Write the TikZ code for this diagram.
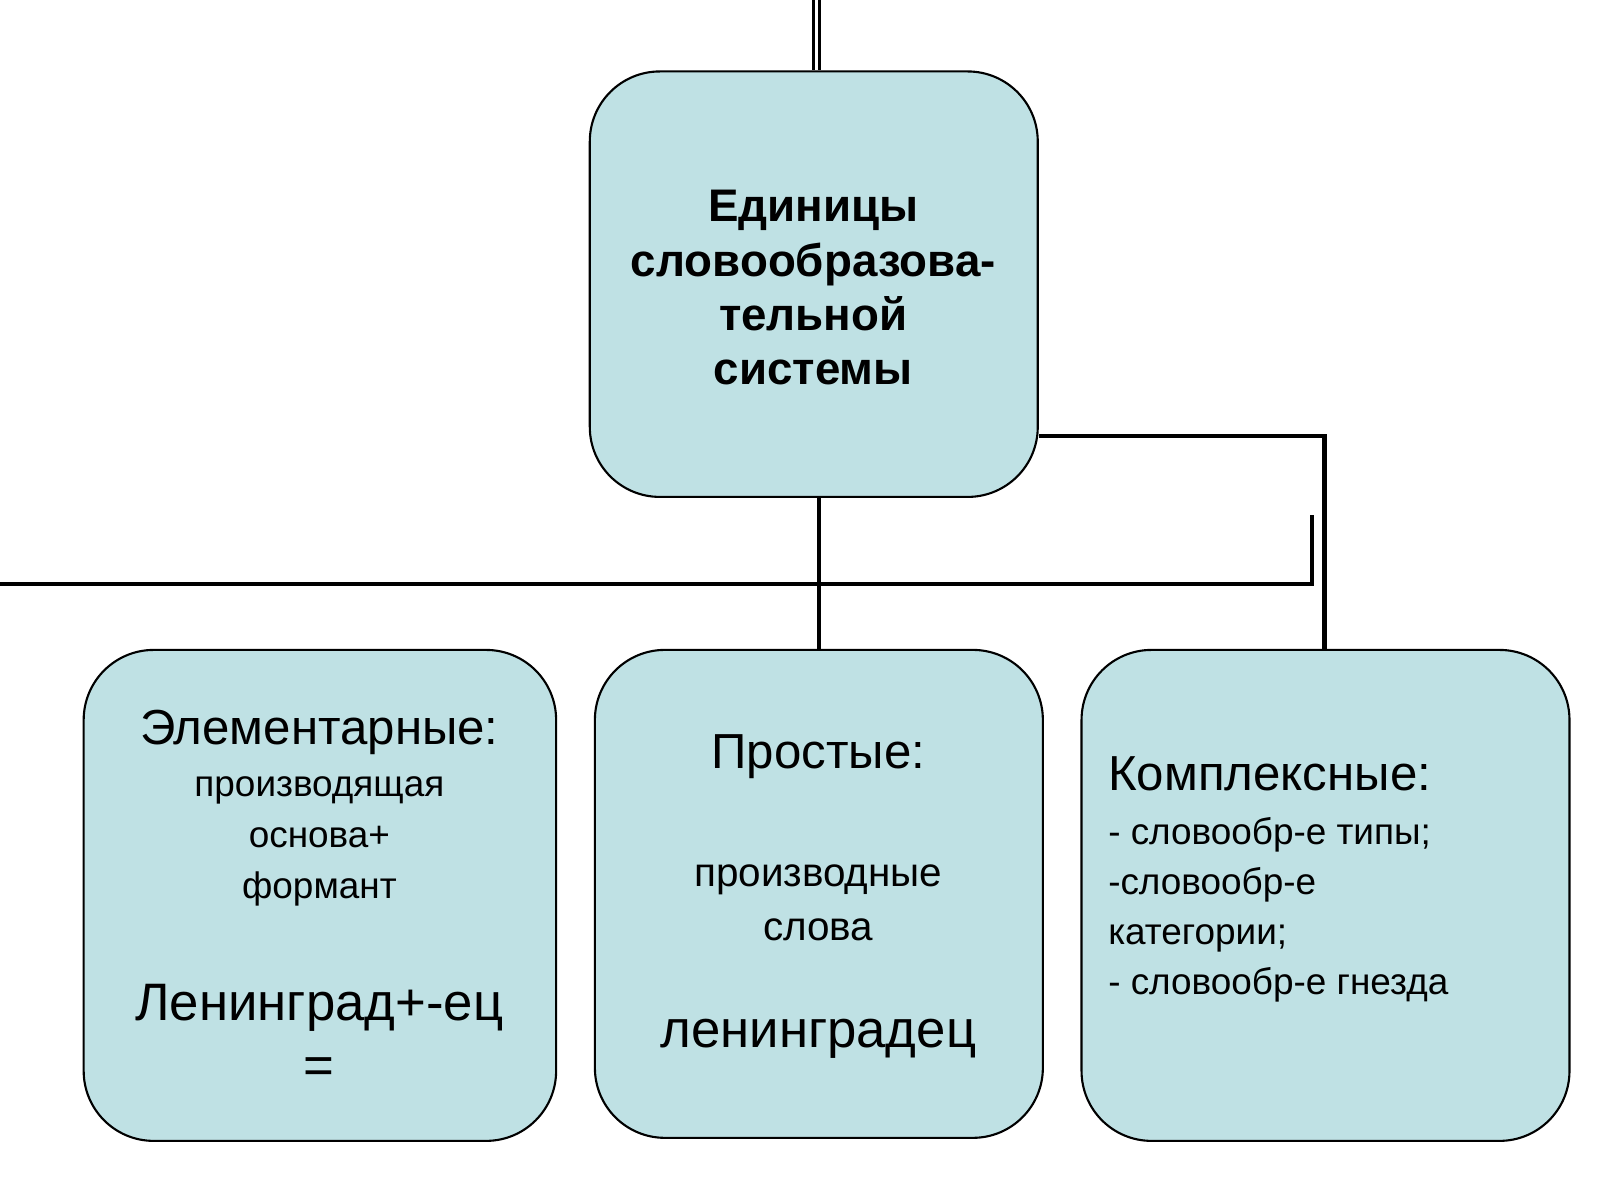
\documentclass[tikz,border=0pt]{standalone}
\usepackage{fontspec}
\setmainfont{Liberation Sans}
\definecolor{boxfill}{HTML}{BFE1E4}
\begin{document}
\begin{tikzpicture}[x=0.2041mm,y=-0.2041mm]
  \tikzset{unit/.style={draw=black,line width=1.2pt,fill=boxfill,rounded corners=14mm,inner sep=0pt},
    link/.style={line width=2.4pt},
    big/.style={font=\fontsize{28}{33}\selectfont,align=center},
    small/.style={font=\fontsize{21}{29}\selectfont,align=center}}
  \useasboundingbox (0,0) rectangle (1568,1176);
  % boxes
  \node[unit,minimum width=89.6mm,minimum height=85.1mm] (top) at (797.5,278.5) {};
  \node[unit,minimum width=94.5mm,minimum height=98.2mm] (left) at (313.5,877.5) {};
  \node[unit,minimum width=89.6mm,minimum height=97.6mm] (mid) at (802.5,876) {};
  \node[unit,minimum width=97.6mm,minimum height=98.2mm] (right) at (1299,877.5) {};
  % connectors
  \coordinate (in1) at (797,0);
  \coordinate (in2) at (803,0);
  \coordinate (cross) at (1286,505);
  \draw[link,line width=1.4pt] (in1) -- (in1 |- top.north);
  \draw[link,line width=1.4pt] (in2) -- (in2 |- top.north);
  \draw[link] (top.south -| mid.north) -- (mid.north);
  \draw[link] (top.east |- 0,427) -- (1298,427) -- (1298,0 |- right.north);
  \draw[link] (0,572) -- (cross |- 0,572) -- (cross);
  % texts
  \node[font=\bfseries\fontsize{26}{31}\selectfont,align=center] (topt) at (797,282)
    {Единицы\\словообразова-\\тельной\\системы};
  \node[big] (leftt) at (313,718) {Элементарные:};
  \node[small,font=\fontsize{21}{29}\selectfont] (lefts) at (313,825) {производящая\\основа+\\формант};
  \node[big,font=\fontsize{30}{36}\selectfont] (lefte) at (313,1013) {Ленинград+-ец\\=};
  \node[big] (midt) at (802,742) {Простые:};
  \node[small,font=\fontsize{23}{31}\selectfont] (mids) at (802,885) {производные\\слова};
  \node[big,font=\fontsize{30}{36}\selectfont] (mide) at (802,1018) {ленинградец};
  \node[big,anchor=west] (rightt) at (1080,758) {Комплексные:};
  \node[small,align=left,anchor=north west,font=\fontsize{21}{28.5}\selectfont] (rights) at (1080,795)
    {- словообр-е типы;\\-словообр-е\\категории;\\- словообр-е гнезда};
\end{tikzpicture}
\end{document}
